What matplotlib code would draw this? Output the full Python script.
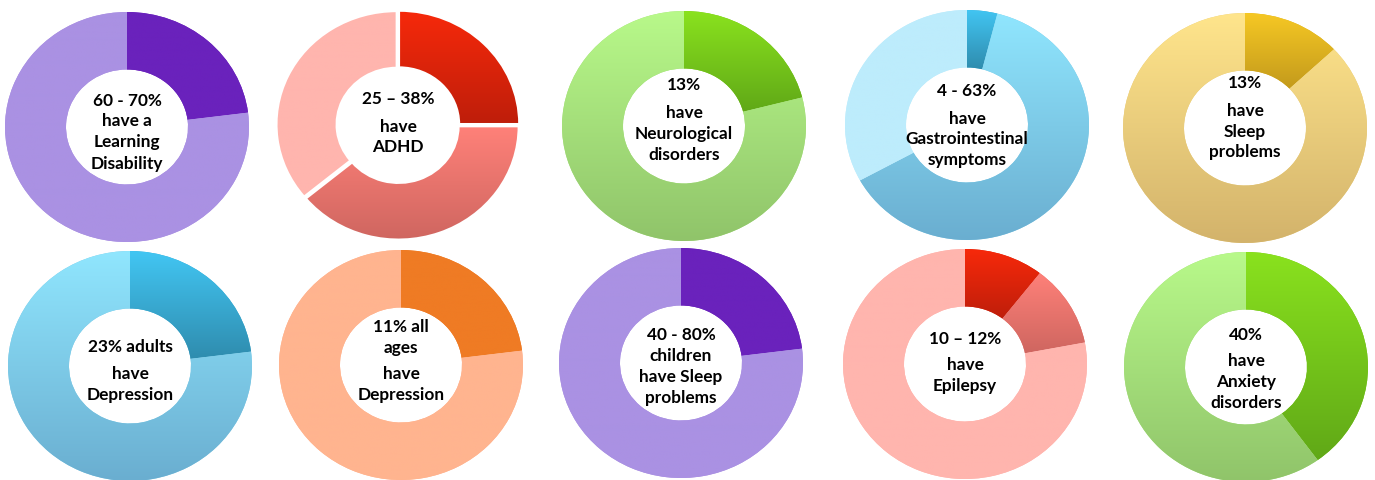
import numpy as np
import matplotlib
matplotlib.use("Agg")
import matplotlib.pyplot as plt
from matplotlib.colors import to_rgb
from matplotlib.patches import PathPatch

# ---------------- data ----------------
learning_disability = [23, 77]
adhd = [25, 39, 36]
neurological = [21, 79]
gastrointestinal = [4, 63, 33]
sleep_problems = [13, 87]
depression_adults = [23, 77]
depression_all_ages = [23, 77]
sleep_children = [23, 77]
epilepsy = [10.5, 11.5, 78]
anxiety = [40, 60]

series = [learning_disability, adhd, neurological, gastrointestinal, sleep_problems,
          depression_adults, depression_all_ages, sleep_children, epilepsy, anxiety]

labels = [
    ["60 - 70%\nhave a\nLearning\nDisability"],
    ["25 – 38%", "have\nADHD"],
    ["13%", "have\nNeurological\ndisorders"],
    ["4 - 63%", "have\nGastrointestinal\nsymptoms"],
    ["13%", "have\nSleep\nproblems"],
    ["23% adults", "have\nDepression"],
    ["11% all\nages", "have\nDepression"],
    ["40 - 80%\nchildren\nhave Sleep\nproblems"],
    ["10 – 12%", "have\nEpilepsy"],
    ["40%", "have\nAnxiety\ndisorders"],
]

# ---------------- styles (top colour, bottom colour) ----------------
PURPLE_D = ("#6A22BC", "#6A22BC")
PURPLE_L = ("#AA91E3", "#AA91E3")
RED = ("#F7290B", "#BE1E0A")
SALMON = ("#FF8179", "#CF6660")
PINK = ("#FFB5AE", "#FFB5AE")
GREEN_D = ("#8AE21E", "#60A817")
GREEN_L = ("#B8F98A", "#90C46A")
BLUE_D = ("#42C6F3", "#2F8CAE")
BLUE_M = ("#90E6FE", "#6AAED0")
BLUE_L = ("#BDECFC", "#BDECFC")
YEL_D = ("#F6C824", "#C39A1C")
YEL_L = ("#FFE58C", "#D3B36B")
ORANGE_D = ("#EF7B24", "#EF7B24")
ORANGE_L = ("#FFB48F", "#FFB48F")

colours = [
    [PURPLE_D, PURPLE_L],
    [RED, SALMON, PINK],
    [GREEN_D, GREEN_L],
    [BLUE_D, BLUE_M, BLUE_L],
    [YEL_D, YEL_L],
    [BLUE_D, BLUE_M],
    [ORANGE_D, ORANGE_L],
    [PURPLE_D, PURPLE_L],
    [RED, SALMON, PINK],
    [GREEN_D, GREEN_L],
]

W, H = 1375, 481
centers = [(127, 128), (398, 126), (684, 127), (967, 126), (1245, 129),
           (130, 367), (401, 366), (681, 364), (965, 365), (1246, 368)]
RX, RY = 122, 115
first_line = [-28, -27, -42, -35, -46, -20, -40, -29, -27, -34]
LINE, PARA = 21, 27

fig = plt.figure(figsize=(W / 100, H / 100), dpi=100)
fig.patch.set_facecolor("white")

for i, (vals, cols, lab) in enumerate(zip(series, colours, labels)):
    cx, cy = centers[i]
    ax = fig.add_axes([(cx - RX) / W, (H - cy - RY) / H, 2 * RX / W, 2 * RY / H])
    exploded = (i == 1)
    rad = 0.985 if exploded else 1.0
    wedges, _ = ax.pie(vals, startangle=90, counterclock=False, radius=rad,
                       explode=[0.012] * len(vals) if exploded else None,
                       wedgeprops=dict(width=0.5 * rad))
    for w, (top, bot) in zip(wedges, cols):
        path = w.get_path()
        bb = path.get_extents()
        t = np.linspace(0, 1, 256)[:, None]
        c0, c1 = np.array(to_rgb(top)), np.array(to_rgb(bot))
        img = (c0[None, None, :] * (1 - t[:, :, None]) + c1[None, None, :] * t[:, :, None])
        img = np.repeat(img, 2, axis=1)
        mid = tuple((c0 + c1) / 2)
        under = PathPatch(path, facecolor=mid, edgecolor="none", zorder=1,
                          transform=ax.transData)
        ax.add_patch(under)
        im = ax.imshow(img, extent=(bb.x0, bb.x1, bb.y0, bb.y1), origin="upper",
                       aspect="auto", interpolation="bilinear", zorder=2)
        im.set_clip_path(w)
        w.set_facecolor("none")
        w.set_zorder(3)
        if exploded:
            w.set_edgecolor("white")
            w.set_linewidth(1.5)
        else:
            w.set_edgecolor("none")
    ax.set_aspect("auto")
    ax.set_xlim(-1, 1)
    ax.set_ylim(-1, 1)
    ax.axis("off")

    y = cy + first_line[i]
    for p, para in enumerate(lab):
        if p > 0:
            y += PARA - LINE
        for line in para.split("\n"):
            fig.text(cx / W, (H - y - 5.5) / H, line, ha="center", va="baseline",
                     fontsize=12.4, fontweight="bold", family=["Lato", "DejaVu Sans"],
                     color="black")
            y += LINE

fig.savefig("out.png", dpi=100, facecolor="white")
